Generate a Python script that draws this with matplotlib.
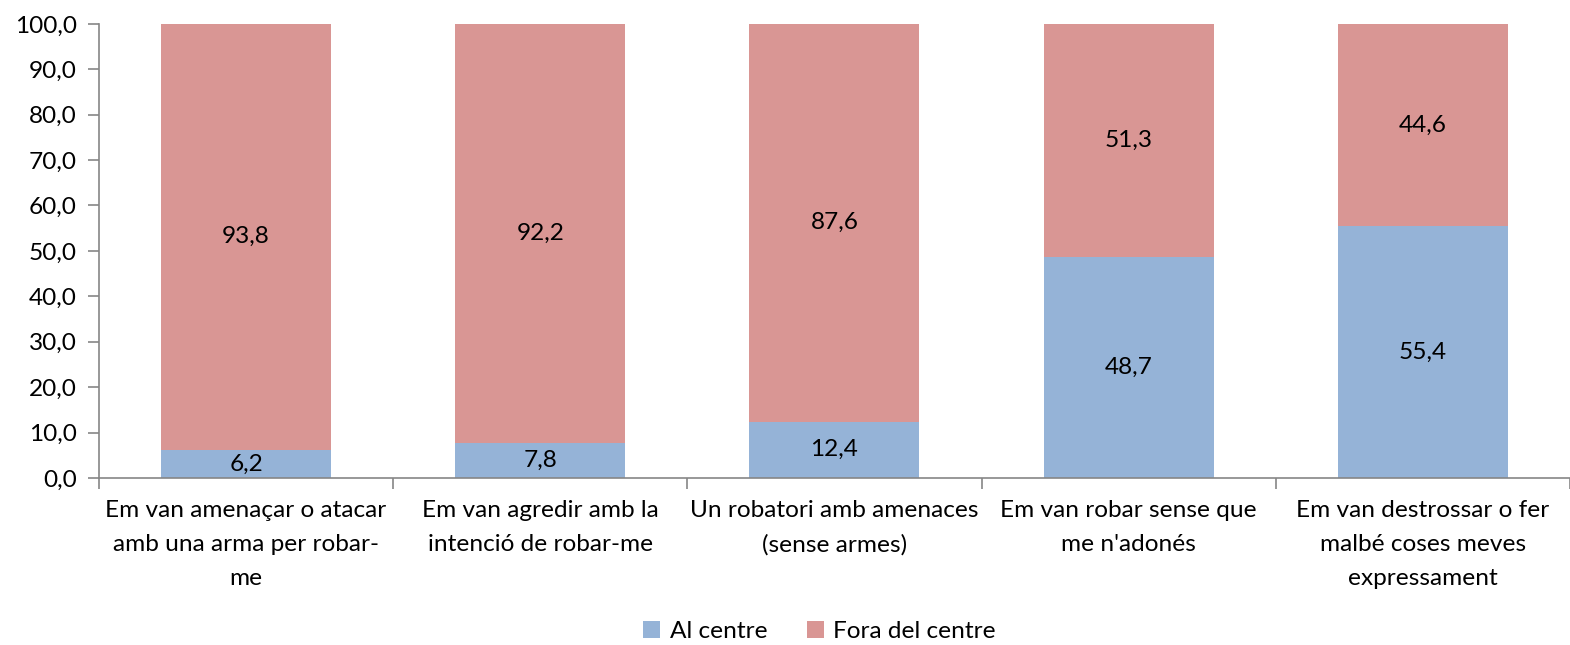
import matplotlib.pyplot as plt
from matplotlib.ticker import FuncFormatter, FixedLocator

# Data
categories = [
    "Em van amenaçar o atacar\namb una arma per robar-\nme",
    "Em van agredir amb la\nintenció de robar-me",
    "Un robatori amb amenaces\n(sense armes)",
    "Em van robar sense que\nme n'adonés",
    "Em van destrossar o fer\nmalbé coses meves\nexpressament",
]
al_centre = [6.2, 7.8, 12.4, 48.7, 55.4]
fora_centre = [93.8, 92.2, 87.6, 51.3, 44.6]

plt.rcParams['font.family'] = ['Lato', 'DejaVu Sans']

fig = plt.figure(figsize=(15.7, 6.45), dpi=100)
ax = fig.add_axes([0.063, 0.259, 0.937, 0.704])

x = range(len(categories))
w = 0.578
blue = '#95B3D7'
red = '#D99694'
fs = 17.6

b1 = ax.bar(x, al_centre, width=w, color=blue, label='Al centre')
b2 = ax.bar(x, fora_centre, width=w, bottom=al_centre, color=red, label='Fora del centre')

# Value labels centred in each segment
for i in x:
    ax.text(i, al_centre[i] / 2, f"{al_centre[i]:.1f}".replace('.', ','),
            ha='center', va='center', fontsize=fs)
    ax.text(i, al_centre[i] + fora_centre[i] / 2, f"{fora_centre[i]:.1f}".replace('.', ','),
            ha='center', va='center', fontsize=fs)

ax.set_xlim(-0.5, len(categories) - 0.5)
ax.set_ylim(0, 100)
ax.set_yticks(range(0, 101, 10))
ax.yaxis.set_major_formatter(FuncFormatter(lambda v, p: f"{v:.1f}".replace('.', ',')))
ax.tick_params(axis='y', labelsize=fs, length=8, width=1.2, color='#868686', pad=8)

# Category labels without ticks, ticks at boundaries
ax.set_xticks(list(x))
ax.set_xticklabels(categories, fontsize=fs, linespacing=1.75)
ax.tick_params(axis='x', which='major', length=0, pad=16)
ax.xaxis.set_minor_locator(FixedLocator([i - 0.5 for i in range(len(categories) + 1)]))
ax.tick_params(axis='x', which='minor', length=8, width=1.2, color='#868686')

for s in ['top', 'right']:
    ax.spines[s].set_visible(False)
for s in ['left', 'bottom']:
    ax.spines[s].set_color('#868686')
    ax.spines[s].set_linewidth(1.2)

leg = fig.legend(handles=[b1, b2], loc='lower center', bbox_to_anchor=(0.522, -0.029),
                 ncol=2, frameon=False, fontsize=fs, handlelength=0.7, handleheight=0.7,
                 handletextpad=0.4, columnspacing=1.6)

fig.savefig('out.png', dpi=100)
